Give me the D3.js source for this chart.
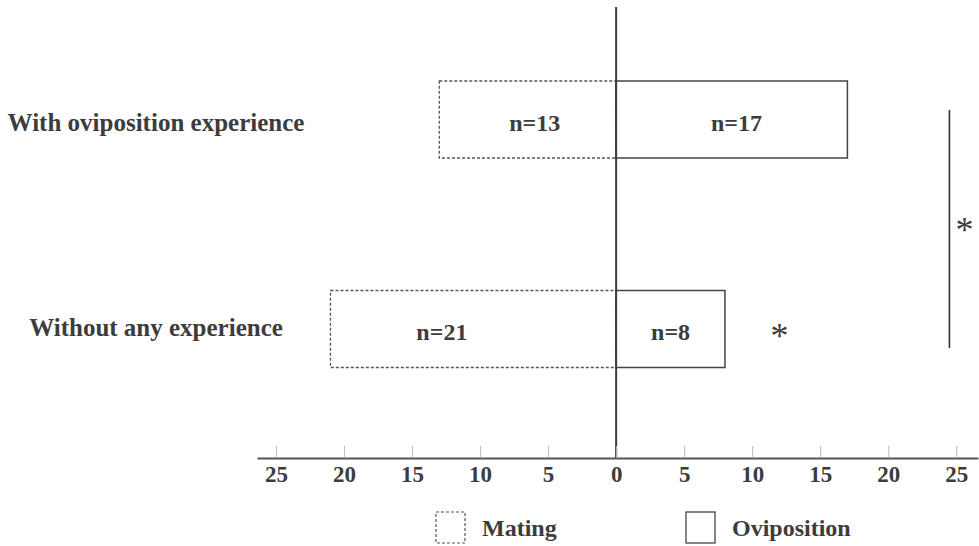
<!DOCTYPE html>
<html>
<head>
<meta charset="utf-8">
<script src="https://cdn.jsdelivr.net/npm/d3@7"></script>
<style>
  html, body { margin: 0; padding: 0; background: #fff; }
  svg { display: block; }
  text { font-family: "Liberation Serif", "Times New Roman", serif; font-weight: bold; fill: #3c3c3c; }
</style>
</head>
<body>
<svg id="chart" width="979" height="546"></svg>
<script>
// ---- data ----
const categories = ["With oviposition experience", "Without any experience"];
const mating = [13, 21];
const oviposition = [17, 8];
const tickValues = [-25, -20, -15, -10, -5, 0, 5, 10, 15, 20, 25];
const seriesNames = ["Mating", "Oviposition"];

// ---- drawing ----
const svg = d3.select("#chart");
const ink = "#3c3c3c";

const x = d3.scaleLinear().domain([-26.4, 26.6]).range([257, 978]);
const y = d3.scalePoint().domain(categories).range([119.5, 329]);
const barH = 77;
const axisY = 458;

// bars: mating (left, dashed)
svg.selectAll("rect.mating").data(categories).join("rect")
  .attr("class", "mating")
  .attr("x", (d, i) => x(-mating[i]))
  .attr("y", d => y(d) - barH / 2)
  .attr("width", (d, i) => x(0) - x(-mating[i]))
  .attr("height", barH)
  .attr("fill", "#fff")
  .attr("stroke", "#555")
  .attr("stroke-width", 1.3)
  .attr("stroke-dasharray", "3,2");

// bars: oviposition (right, solid)
svg.selectAll("rect.ovi").data(categories).join("rect")
  .attr("class", "ovi")
  .attr("x", x(0))
  .attr("y", d => y(d) - barH / 2)
  .attr("width", (d, i) => x(oviposition[i]) - x(0))
  .attr("height", barH)
  .attr("fill", "#fff")
  .attr("stroke", "#444")
  .attr("stroke-width", 1.5);

// n labels
const matingLabelFrac = [0.46, 0.61];
const oviLabelFrac = [0.52, 0.5];
svg.selectAll("text.nm").data(categories).join("text")
  .attr("class", "nm")
  .attr("x", (d, i) => x(-mating[i] * matingLabelFrac[i]))
  .attr("y", d => y(d) + 11)
  .attr("text-anchor", "middle")
  .style("font-size", "24px")
  .text((d, i) => "n=" + mating[i]);
svg.selectAll("text.no").data(categories).join("text")
  .attr("class", "no")
  .attr("x", (d, i) => x(oviposition[i] * oviLabelFrac[i]))
  .attr("y", d => y(d) + 11)
  .attr("text-anchor", "middle")
  .style("font-size", "24px")
  .text((d, i) => "n=" + oviposition[i]);

// category labels
const catBaseline = [11, 7];
svg.selectAll("text.cat").data(categories).join("text")
  .attr("class", "cat")
  .attr("x", 156)
  .attr("y", (d, i) => y(d) + catBaseline[i])
  .attr("text-anchor", "middle")
  .style("font-size", "25px")
  .text(d => d);

// zero line
svg.append("line")
  .attr("x1", x(0)).attr("x2", x(0))
  .attr("y1", 7).attr("y2", axisY)
  .attr("stroke", ink).attr("stroke-width", 2);

// axis
const axis = d3.axisBottom(x)
  .tickValues(tickValues)
  .tickFormat(d => Math.abs(d))
  .tickSizeInner(-12)
  .tickSizeOuter(0)
  .tickPadding(8);
const gAxis = svg.append("g").attr("transform", `translate(0,${axisY})`).call(axis);
gAxis.select(".domain").attr("stroke", "#555").attr("stroke-width", 2.2);
gAxis.selectAll(".tick line").attr("stroke", "#bbb").attr("stroke-width", 1);
gAxis.selectAll(".tick text")
  .style("font-size", "23px")
  .style("font-family", "'Liberation Serif', 'Times New Roman', serif")
  .style("font-weight", "bold")
  .attr("fill", ink);

// significance: row star
svg.append("text")
  .attr("x", x(12)).attr("y", y(categories[1]) + 19)
  .attr("text-anchor", "middle")
  .style("font-size", "36px").style("font-weight", "normal")
  .text("*");

// significance bracket between rows
svg.append("line")
  .attr("x1", x(24.5)).attr("x2", x(24.5))
  .attr("y1", 110).attr("y2", 348)
  .attr("stroke", "#333").attr("stroke-width", 1.6);
svg.append("text")
  .attr("x", x(25.6)).attr("y", 242)
  .attr("text-anchor", "middle")
  .style("font-size", "36px").style("font-weight", "normal")
  .text("*");

// legend
const legendX = [436, 686];
const lg = svg.selectAll("g.leg").data(seriesNames).join("g")
  .attr("class", "leg")
  .attr("transform", (d, i) => `translate(${legendX[i]},512)`);
lg.append("rect")
  .attr("width", 29).attr("height", 31)
  .attr("fill", "#fff")
  .attr("stroke", (d, i) => i === 0 ? "#555" : "#444")
  .attr("stroke-width", (d, i) => i === 0 ? 1.2 : 1.3)
  .attr("stroke-dasharray", (d, i) => i === 0 ? "3,2" : null);
lg.append("text")
  .attr("x", 46).attr("y", 24)
  .style("font-size", "24px")
  .text(d => d);
</script>
</body>
</html>
